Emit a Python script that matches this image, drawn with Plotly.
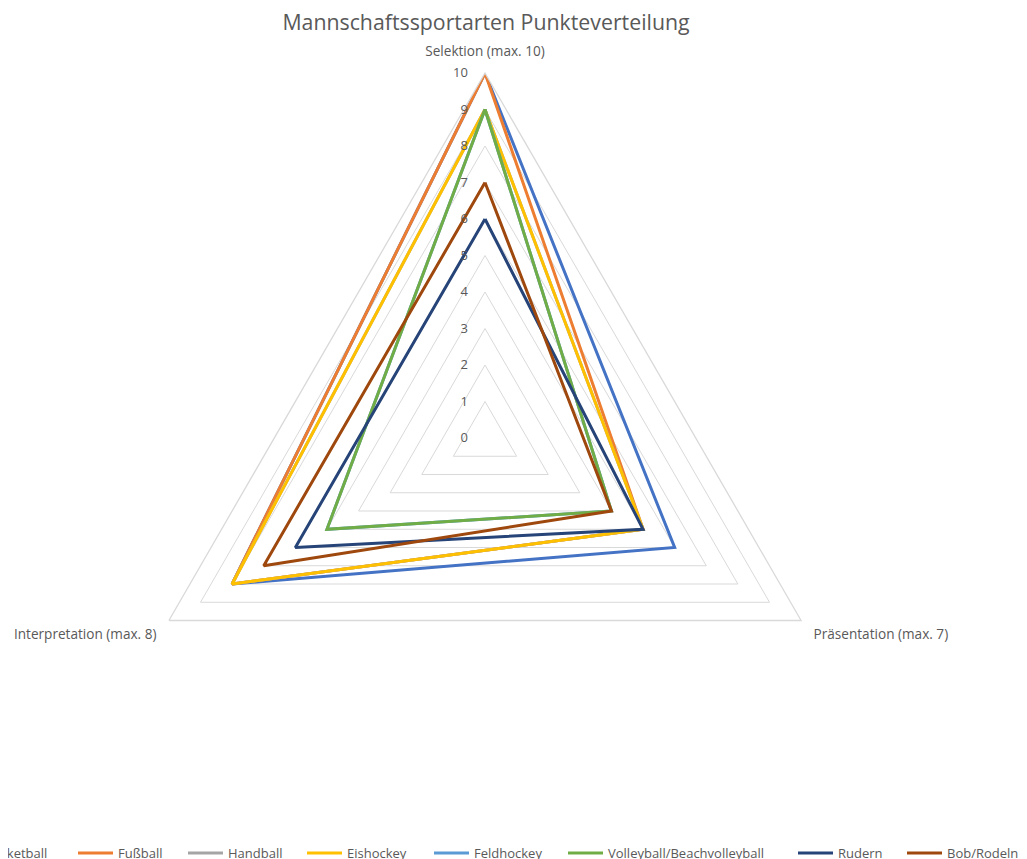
import plotly.graph_objects as go

# ---- data ----
categories = ["Selektion (max. 10)", "Präsentation (max. 7)", "Interpretation (max. 8)"]
series_names = ["Basketball", "Fußball", "Handball", "Eishockey", "Feldhockey",
                "Volleyball/Beachvolleyball", "Rudern", "Bob/Rodeln"]
basketball = [10, 6, 8]
fussball = [10, 5, 8]
handball = [9, 5, 8]
eishockey = [9, 5, 8]
feldhockey = [9, 4, 5]
volleyball = [9, 4, 5]
rudern = [6, 5, 6]
bob_rodeln = [7, 4, 7]
radial_ticks = [0, 1, 2, 3, 4, 5, 6, 7, 8, 9, 10]

series_values = [basketball, fussball, handball, eishockey, feldhockey,
                 volleyball, rudern, bob_rodeln]

# ---- styles / layout ----
colors = ["#4472C4", "#ED7D31", "#A5A5A5", "#FFC000", "#5B9BD5",
          "#70AD47", "#264478", "#9E480E"]
OFF = 8                      # page body margin of the html page
W, H = 1027 - OFF, 859 - OFF
FONT = "Open Sans"
TXT = "#595959"
# legend layout (page-pixel positions of each line start)
legend_line_x = [-55, 78, 188, 307, 434, 568, 798, 907]
legend_line_len = 35
legend_text_gap = 3
legend_y_px = 853


def px(x):
    return (x - OFF) / W


def py(y):
    return 1 - (y - OFF) / H


fig = go.Figure()
for name, vals, col in zip(series_names, series_values, colors):
    fig.add_trace(go.Scatterpolar(
        r=vals + vals[:1],
        theta=categories + categories[:1],
        mode="lines",
        name=name,
        line=dict(color=col, width=3),
        showlegend=False,
    ))

cx, cy, R = 485, 438, 365
fig.update_layout(
    width=W, height=H,
    margin=dict(l=0, r=0, t=0, b=0),
    paper_bgcolor="white",
    plot_bgcolor="white",
    font=dict(family=FONT, color=TXT, size=12),
    title=dict(text="Mannschaftssportarten Punkteverteilung",
               x=px(486), xanchor="center", y=py(23), yanchor="middle",
               font=dict(family=FONT, size=21.3, color=TXT)),
    polar=dict(
        domain=dict(x=[px(cx - R), px(cx + R)],
                    y=[py(cy + R), py(cy - R)]),
        gridshape="linear",
        bgcolor="white",
        radialaxis=dict(range=[0, 10], tickvals=radial_ticks, angle=90,
                        tickangle=90,
                        showline=False, gridcolor="#D9D9D9", gridwidth=1.3,
                        ticks="outside", ticklen=12, tickcolor="rgba(0,0,0,0)",
                        tickfont=dict(size=13, color=TXT),
                        side="counterclockwise"),
        angularaxis=dict(direction="clockwise", rotation=90,
                         showgrid=False, showline=True, linecolor="#D9D9D9",
                         linewidth=1.3, ticks="outside", ticklen=11,
                         tickcolor="rgba(0,0,0,0)",
                         tickfont=dict(size=13.6, color=TXT)),
    ),
)

shapes = []
annotations = []
for name, col, lx in zip(series_names, colors, legend_line_x):
    shapes.append(dict(type="line", xref="paper", yref="paper",
                       x0=px(lx), x1=px(lx + legend_line_len),
                       y0=py(legend_y_px), y1=py(legend_y_px),
                       line=dict(color=col, width=3)))
    annotations.append(dict(xref="paper", yref="paper",
                            x=px(lx + legend_line_len + legend_text_gap),
                            y=py(legend_y_px), xanchor="left", yanchor="middle",
                            text=name, showarrow=False,
                            font=dict(family=FONT, size=13, color=TXT)))
fig.update_layout(shapes=shapes, annotations=annotations)

fig.write_html("out.html")
